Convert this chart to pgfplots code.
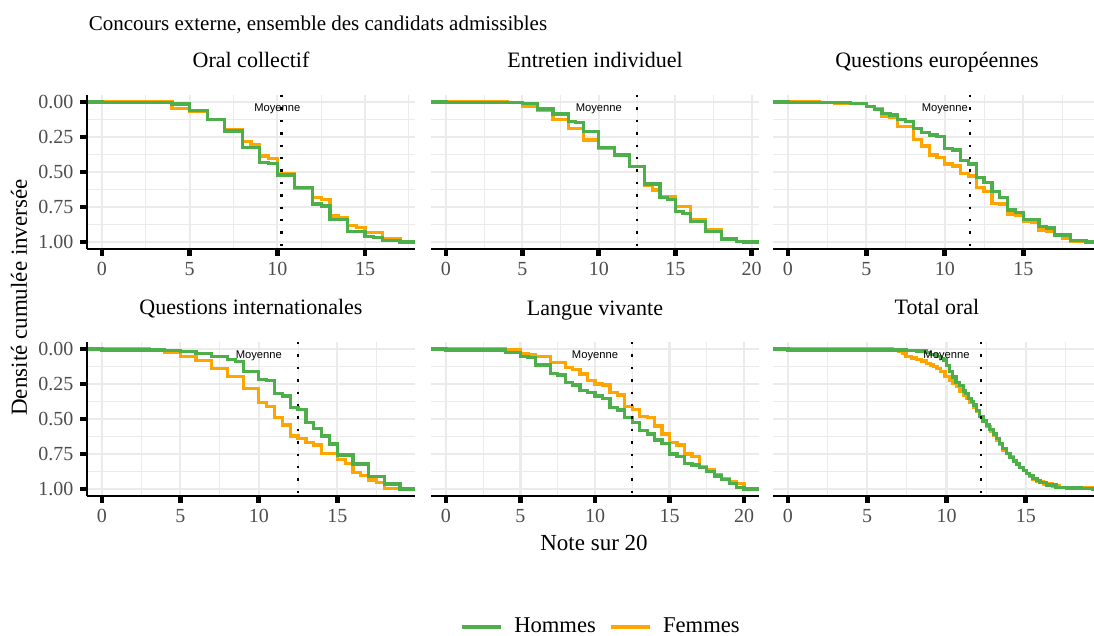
\documentclass[border=0pt]{standalone}
\usepackage{fontspec}
\setmainfont{Liberation Serif}
\newfontfamily\sansf{Liberation Sans}
\usepackage{pgfplots}
\pgfplotsset{compat=1.18}

\definecolor{hom}{HTML}{4DAF4A}
\definecolor{fem}{HTML}{FFA500}
\definecolor{gridc}{HTML}{EBEBEB}
\definecolor{g30}{HTML}{4D4D4D}

\tikzset{moy/.style={font=\sansf\fontsize{5.6}{6.7}\selectfont}}

\pgfplotsset{
  panel/.style={
    scale only axis, width=164pt, height=77pt,
    anchor=north west,
    y dir=reverse, ymin=-0.05, ymax=1.05,
    ytick={0,0.25,0.5,0.75,1},
    minor ytick={0.125,0.375,0.625,0.875},
    grid=both,
    major grid style={gridc, line width=1.1pt},
    minor grid style={gridc, line width=0.55pt},
    axis line style={draw=none},
    tick align=outside,
    major tick length=3.3pt, minor tick length=0pt,
    tick style={black, line width=2.4pt},
    xtick pos=left, ytick pos=left,
    tick label style={font=\fontsize{10}{12}\selectfont, text=g30},
    title style={font=\fontsize{11}{13}\selectfont, anchor=base, at={(0.5,1)}, yshift=7.5pt},
    clip mode=individual,
  },
  leftcol/.style={yticklabels={0.00,0.25,0.50,0.75,1.00}},
  innercol/.style={yticklabels={,,,,}, ytick style={draw=none}},
  femmes/.style={fem, line width=1.6pt, const plot, forget plot},
  hommes/.style={hom, line width=1.6pt, const plot, forget plot},
  meanline/.style={black, line width=1.2pt, dash pattern=on 1.2pt off 5pt, forget plot},
}

\newcommand\baseaxis{\draw[black, line width=0.8pt] (axis description cs:0,0) -- (axis description cs:1,0);}
\newcommand\leftaxis{\draw[black, line width=0.8pt] (axis description cs:0,0) -- (axis description cs:0,1);}

\begin{document}
\begin{tikzpicture}
\path[use as bounding box] (0,0) rectangle (547pt,-318pt);

\node[anchor=base west, inner sep=0pt, font=\fontsize{10.5}{12}\selectfont] at (44.2pt,-15.5pt)
  {Concours externe, ensemble des candidats admissibles};

% ---------- Oral collectif
\begin{axis}[panel, leftcol, at={(43.5pt,-47.5pt)}, title={Oral collectif},
  xmin=-0.85, xmax=17.85, xtick={0,5,10,15}, xticklabels={0,5,10,15},
  minor xtick={2.5,7.5,12.5,17.5}]
\addplot[femmes] coordinates {(-0.85,0) (4,0.045) (5,0.069) (6,0.124) (7,0.195) (8,0.283) (8.5,0.307) (9,0.386) (9.5,0.405) (10,0.51) (11,0.617) (12,0.681) (12.5,0.695) (13,0.814) (13.5,0.824) (14,0.883) (14.5,0.895) (15,0.931) (16,0.979) (17,1) (17.85,1)};
\addplot[hommes] coordinates {(-0.85,0) (0,0.005) (4,0.014) (5,0.062) (6,0.124) (7,0.207) (8,0.326) (9,0.431) (9.5,0.438) (10,0.521) (11,0.612) (12,0.729) (12.5,0.743) (13,0.838) (14,0.926) (15,0.962) (15.5,0.968) (16,0.99) (17,1) (17.85,1)};
\addplot[meanline] coordinates {(10.23,-0.05) (10.23,1.05)};
\node[moy] at (axis cs:10,0.05) {Moyenne};
\baseaxis \leftaxis
\end{axis}

% ---------- Entretien individuel
\begin{axis}[panel, innercol, at={(215.5pt,-47.5pt)}, title={Entretien individuel},
  xmin=-0.975, xmax=20.475, xtick={0,5,10,15,20}, xticklabels={0,5,10,15,20},
  minor xtick={2.5,7.5,12.5,17.5}]
\addplot[femmes] coordinates {(-0.975,0) (4,0.005) (5,0.033) (6,0.062) (7,0.124) (8,0.188) (9,0.271) (10,0.331) (11,0.379) (12,0.462) (13,0.598) (13.5,0.629) (14,0.676) (15,0.748) (16,0.838) (17,0.914) (18,0.979) (19,0.995) (19.5,1) (20.475,1)};
\addplot[hommes] coordinates {(-0.975,0) (0,0.005) (5,0.012) (6,0.05) (7,0.086) (8,0.14) (8.5,0.148) (9,0.212) (10,0.324) (11,0.379) (12,0.462) (13,0.586) (14,0.681) (14.5,0.695) (15,0.783) (15.5,0.795) (16,0.855) (17,0.926) (18,0.979) (19,0.995) (19.5,1) (20.475,1)};
\addplot[meanline] coordinates {(12.5,-0.05) (12.5,1.05)};
\node[moy] at (axis cs:10,0.05) {Moyenne};
\baseaxis
\end{axis}

% ---------- Questions européennes
\begin{axis}[panel, innercol, at={(386.5pt,-47.5pt)}, title={Questions européennes},
  xmin=-0.95, xmax=19.95, xtick={0,5,10,15}, xticklabels={0,5,10,15},
  minor xtick={2.5,7.5,12.5,17.5}]
\addplot[femmes] coordinates {(-0.95,0) (2,0.005) (3,0.012) (5,0.033) (5.5,0.045) (6,0.1) (6.5,0.11) (7,0.176) (8,0.267) (8.5,0.314) (9,0.379) (9.5,0.395) (10,0.443) (10.5,0.457) (11,0.51) (11.5,0.529) (12,0.612) (12.5,0.64) (13,0.724) (13.5,0.729) (14,0.8) (14.5,0.812) (15,0.85) (15.5,0.86) (16,0.914) (16.5,0.926) (17,0.955) (17.5,0.974) (18,0.993) (19,1) (19.95,1)};
\addplot[hommes] coordinates {(-0.95,0) (0,0.005) (4,0.012) (5,0.033) (5.5,0.052) (6,0.081) (6.5,0.093) (7,0.124) (7.5,0.14) (8,0.188) (8.5,0.219) (9,0.236) (9.5,0.248) (10,0.331) (10.5,0.343) (11,0.419) (11.5,0.443) (12,0.538) (12.5,0.574) (13,0.64) (13.5,0.681) (14,0.771) (14.5,0.79) (15,0.838) (16,0.89) (16.5,0.9) (17,0.95) (18,0.99) (19,1) (19.95,1)};
\addplot[meanline] coordinates {(11.6,-0.05) (11.6,1.05)};
\node[moy] at (axis cs:10,0.05) {Moyenne};
\baseaxis
\end{axis}

% ---------- Questions internationales
\begin{axis}[panel, leftcol, at={(43.5pt,-171pt)}, title={Questions internationales},
  xmin=-0.95, xmax=19.95, xtick={0,5,10,15}, xticklabels={0,5,10,15},
  minor xtick={2.5,7.5,12.5,17.5}]
\addplot[femmes] coordinates {(-0.95,0) (3,0.007) (4,0.026) (5,0.055) (6,0.083) (7,0.138) (8,0.198) (9,0.281) (10,0.383) (10.5,0.412) (11,0.488) (11.5,0.543) (12,0.621) (12.5,0.638) (13,0.669) (13.5,0.686) (14,0.745) (15,0.788) (15.5,0.817) (16,0.883) (16.5,0.905) (17,0.936) (17.5,0.955) (18,0.995) (19,1) (19.95,1)};
\addplot[hommes] coordinates {(-0.95,0) (0,0.007) (4,0.012) (5,0.019) (6,0.031) (7,0.055) (8,0.074) (8.5,0.09) (9,0.162) (10,0.217) (10.5,0.226) (11,0.317) (11.5,0.336) (12,0.417) (12.5,0.43) (13,0.526) (13.5,0.567) (14,0.621) (14.5,0.679) (15,0.757) (16,0.821) (17,0.912) (18,0.964) (19,1) (19.95,1)};
\addplot[meanline] coordinates {(12.5,-0.05) (12.5,1.05)};
\node[moy] at (axis cs:10,0.05) {Moyenne};
\baseaxis \leftaxis
\end{axis}

% ---------- Langue vivante
\begin{axis}[panel, innercol, at={(215.5pt,-171pt)}, title={Langue vivante},
  xmin=-1, xmax=21, xtick={0,5,10,15,20}, xticklabels={0,5,10,15,20},
  minor xtick={2.5,7.5,12.5,17.5},
  legend style={at={(0.521,-0.851)}, anchor=center, draw=none, fill=none,
    font=\fontsize{11.3}{13}\selectfont, legend columns=2,
    /tikz/every odd column/.append style={column sep=4pt},
    /tikz/every even column/.append style={column sep=4.5pt}},
  legend image code/.code={\draw[#1, line width=1.6pt] (0pt,0pt) -- (19.5pt,0pt);}]
\addlegendimage{hom}\addlegendentry{Hommes}
\addlegendimage{fem}\addlegendentry{Femmes}
\addplot[femmes] coordinates {(-1,0) (4,0.007) (5,0.036) (5.5,0.043) (6,0.055) (7,0.098) (8,0.131) (8.5,0.145) (9,0.179) (9.5,0.226) (10,0.25) (10.5,0.257) (11,0.31) (11.5,0.329) (12,0.412) (12.5,0.431) (13,0.483) (13.5,0.488) (14,0.55) (14.5,0.607) (15,0.669) (15.5,0.686) (16,0.75) (16.5,0.769) (17,0.84) (17.5,0.864) (18,0.9) (18.5,0.924) (19,0.948) (19.5,0.96) (20,1) (21,1)};
\addplot[hommes] coordinates {(-1,0) (0,0.007) (4,0.026) (5,0.055) (5.5,0.06) (6,0.114) (7,0.174) (7.5,0.186) (8,0.24) (8.5,0.257) (9,0.298) (9.5,0.312) (10,0.336) (10.5,0.352) (11,0.417) (11.5,0.436) (12,0.488) (12.5,0.524) (13,0.583) (13.5,0.607) (14,0.65) (14.5,0.674) (15,0.75) (15.5,0.769) (16,0.817) (16.5,0.829) (17,0.845) (17.5,0.876) (18,0.907) (18.5,0.931) (19,0.96) (19.5,0.988) (20,1) (21,1)};
\addplot[meanline] coordinates {(12.5,-0.05) (12.5,1.05)};
\node[moy] at (axis cs:10,0.05) {Moyenne};
\baseaxis
\end{axis}

% ---------- Total oral
\begin{axis}[panel, innercol, at={(386.5pt,-171pt)}, title={Total oral},
  xmin=-0.94, xmax=19.74, xtick={0,5,10,15}, xticklabels={0,5,10,15},
  minor xtick={2.5,7.5,12.5,17.5}]
\addplot[femmes] coordinates {(-0.94,0) (6.6,0.005) (7.0,0.019) (7.2,0.035) (7.45,0.055) (7.8,0.064) (8.1,0.074) (8.4,0.086) (8.75,0.102) (9.0,0.114) (9.2,0.126) (9.4,0.14) (9.6,0.162) (9.9,0.198) (10.2,0.221) (10.4,0.245) (10.65,0.269) (10.85,0.3) (11.05,0.329) (11.25,0.355) (11.45,0.383) (11.7,0.415) (11.9,0.448) (12.1,0.483) (12.3,0.519) (12.5,0.555) (12.75,0.59) (12.95,0.62) (13.15,0.65) (13.35,0.685) (13.55,0.721) (13.8,0.745) (14.0,0.769) (14.2,0.795) (14.4,0.821) (14.6,0.845) (14.85,0.869) (15.05,0.89) (15.25,0.912) (15.45,0.93) (15.7,0.948) (16.1,0.964) (16.7,0.979) (17.1,0.988) (18.0,0.993) (19.2,1) (19.74,1)};
\addplot[hommes] coordinates {(-0.94,0) (0,0.007) (7.5,0.012) (8.1,0.014) (8.7,0.026) (9.0,0.04) (9.4,0.055) (9.6,0.068) (9.8,0.079) (10.0,0.12) (10.2,0.16) (10.4,0.2) (10.6,0.237) (10.8,0.26) (11.05,0.3) (11.2,0.32) (11.4,0.352) (11.55,0.375) (11.7,0.4) (11.9,0.44) (12.1,0.483) (12.3,0.515) (12.5,0.543) (12.7,0.575) (12.95,0.607) (13.15,0.64) (13.35,0.674) (13.55,0.71) (13.8,0.745) (14.0,0.775) (14.2,0.8) (14.4,0.822) (14.6,0.845) (14.85,0.866) (15.05,0.888) (15.25,0.905) (15.45,0.924) (15.7,0.94) (15.9,0.955) (16.3,0.971) (16.9,0.988) (17.6,0.993) (18.5,0.995) (19.2,1) (19.74,1)};
\addplot[meanline] coordinates {(12.16,-0.05) (12.16,1.05)};
\node[moy] at (axis cs:10,0.05) {Moyenne};
\baseaxis
\end{axis}

\node[rotate=90, font=\fontsize{11.5}{13}\selectfont] at (9.5pt,-148.75pt) {Densité cumulée inversée};
\node[anchor=base, font=\fontsize{11.5}{13}\selectfont] at (297pt,-275.3pt) {Note sur 20};
\end{tikzpicture}
\end{document}
